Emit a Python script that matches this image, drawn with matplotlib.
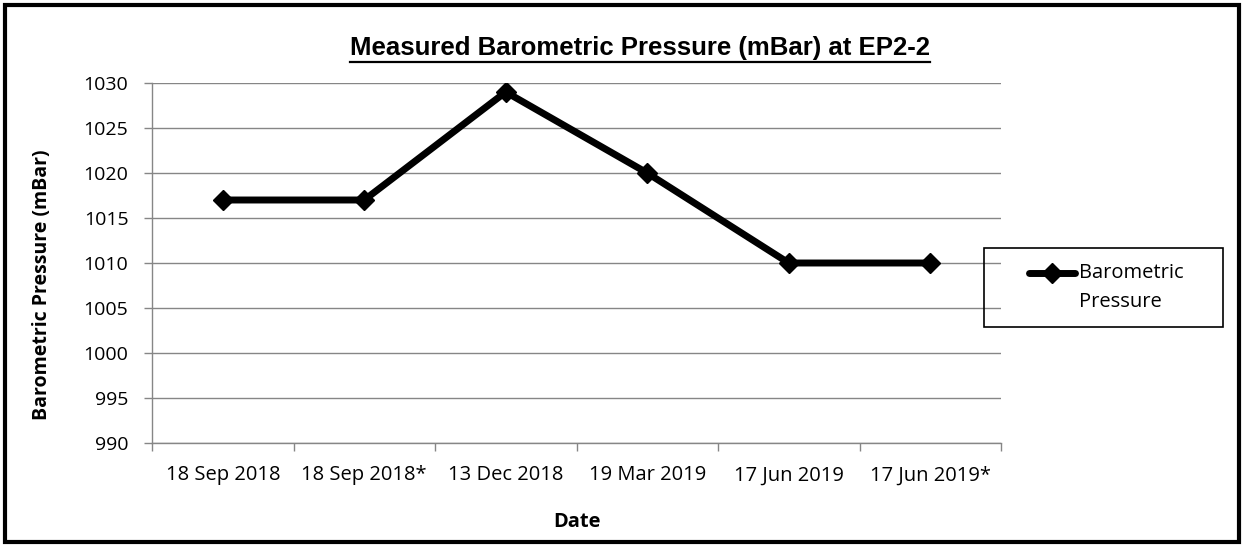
import matplotlib.pyplot as plt
from matplotlib.lines import Line2D
from matplotlib.patches import Rectangle

dates = ["18 Sep 2018", "18 Sep 2018*", "13 Dec 2018", "19 Mar 2019", "17 Jun 2019", "17 Jun 2019*"]
pressure = [1017, 1017, 1029, 1020, 1010, 1010]
y_ticks = [990, 995, 1000, 1005, 1010, 1015, 1020, 1025, 1030]

plt.rcParams['font.family'] = ['Open Sans', 'DejaVu Sans']

W, H = 1242, 546
fig = plt.figure(figsize=(W / 100, H / 100), dpi=100)
ax = fig.add_axes([152 / W, 1 - 443 / H, 849 / W, 360 / H])


def fx(px):
    return px / W


def fy(py):
    return 1 - py / H


x = list(range(len(dates)))
ax.plot(x, pressure, color='black', lw=5, marker='D', ms=10, mew=1, zorder=3)

ax.set_xlim(-0.5, len(dates) - 0.5)
ax.set_ylim(y_ticks[0], y_ticks[-1])
ax.set_yticks(y_ticks)
ax.set_xticks([i - 0.5 for i in range(len(dates) + 1)])
ax.set_xticklabels([])
ax.set_xticks(x, minor=True)
ax.set_xticklabels(dates, minor=True)
ax.tick_params(axis='x', which='major', length=6, color='#868686', width=1)
ax.tick_params(axis='x', which='minor', length=0, labelsize=14.5, pad=16)
ax.tick_params(axis='y', length=6, color='#868686', width=1, labelsize=14, pad=11)

ax.yaxis.grid(True, color='#868686', lw=1)
ax.set_axisbelow(True)
for side in ['top', 'right']:
    ax.spines[side].set_visible(False)
for side in ['left', 'bottom']:
    ax.spines[side].set_color('#868686')
    ax.spines[side].set_linewidth(1)

fig.text(fx(577), fy(522), 'Date', fontsize=14.5, fontweight='bold', ha='center', va='center')
fig.text(fx(42), fy(285), 'Barometric Pressure (mBar)', fontsize=14, fontweight='bold',
         rotation=90, ha='center', va='center')

title = fig.text(fx(640), fy(48), 'Measured Barometric Pressure (mBar) at EP2-2',
                 family='Liberation Sans', fontsize=18.5, fontweight='bold',
                 ha='center', va='center')

# legend box
fig.patches.append(Rectangle((fx(984), fy(327)), 239 / W, 79 / H,
                             transform=fig.transFigure, fill=False, ec='black', lw=1.2))
fig.lines.append(Line2D([fx(1029), fx(1075)], [fy(273)] * 2, transform=fig.transFigure,
                        color='black', lw=5, solid_capstyle='round'))
fig.lines.append(Line2D([fx(1052)], [fy(273)], transform=fig.transFigure,
                        color='black', marker='D', ms=10, mew=1))
fig.text(fx(1079), fy(273), 'Barometric', fontsize=14.5, ha='left', va='center')
fig.text(fx(1079), fy(302), 'Pressure', fontsize=14.5, ha='left', va='center')

# outer border
fig.patches.append(Rectangle((fx(5), fy(542)), 1234 / W, 537 / H,
                             transform=fig.transFigure, fill=False, ec='black', lw=3))

# underline the title
fig.canvas.draw()
bb = title.get_window_extent().transformed(fig.transFigure.inverted())
fig.lines.append(Line2D([bb.x0, bb.x1], [fy(62)] * 2, transform=fig.transFigure,
                        color='black', lw=1.6))

fig.savefig('out.png', dpi=100)
